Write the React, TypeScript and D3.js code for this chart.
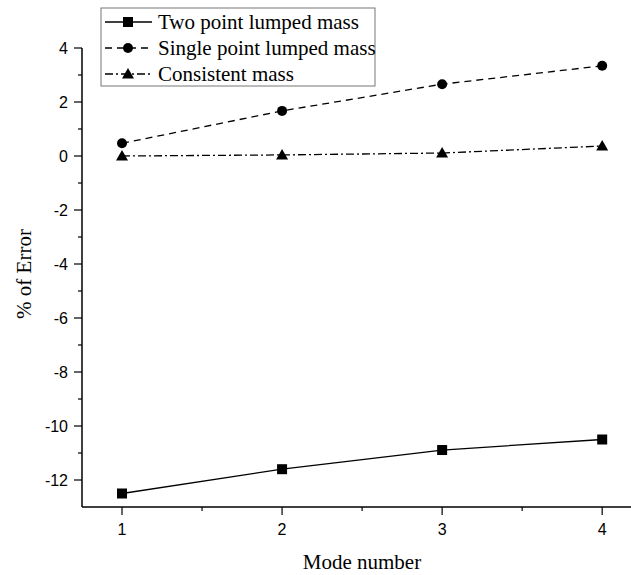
import React from "react";
import * as d3 from "d3";

const modes = [1, 2, 3, 4];
const twoPoint = [-12.5, -11.6, -10.89, -10.5];
const singlePoint = [0.47, 1.67, 2.66, 3.34];
const consistent = [0.0, 0.04, 0.11, 0.37];
const yTicks = [4, 2, 0, -2, -4, -6, -8, -10, -12];
const yMinor = [3, 1, -1, -3, -5, -7, -9, -11];
const xTicks = [1, 2, 3, 4];
const xMinor = [1.5, 2.5, 3.5];
const seriesNames = ["Two point lumped mass", "Single point lumped mass", "Consistent mass"];

const W = 631;
const H = 575;
const left = 82;
const bottom = 507;

export default function App() {
  const x = d3.scaleLinear().domain([0.75, 4.18]).range([left, 631]);
  const y = d3.scaleLinear().domain([-13, 4]).range([bottom, bottom - 17 * 27]);
  const line = d3
    .line<[number, number]>()
    .x((d) => x(d[0]))
    .y((d) => y(d[1]));

  const series = [
    { name: seriesNames[0], vals: twoPoint, dash: "none", marker: "square" },
    { name: seriesNames[1], vals: singlePoint, dash: "7,5", marker: "circle" },
    { name: seriesNames[2], vals: consistent, dash: "8,3,2,3", marker: "triangle" },
  ];

  const marker = (type: string, cx: number, cy: number, key: any) => {
    if (type === "square")
      return <rect key={key} x={cx - 5} y={cy - 5} width={10} height={10} fill="#000" />;
    if (type === "circle") return <circle key={key} cx={cx} cy={cy} r={5} fill="#000" />;
    const s = 6;
    return (
      <path
        key={key}
        d={`M${cx},${cy - s} L${cx + s},${cy + s * 0.75} L${cx - s},${cy + s * 0.75} Z`}
        fill="#000"
      />
    );
  };

  const serif = "'Liberation Serif', 'Times New Roman', serif";
  const sans = "'Liberation Sans', Arial, sans-serif";

  return (
    <svg width={W} height={H} style={{ position: "absolute", left: 0, top: 0, background: "#fff" }}>
      <rect x={0} y={0} width={W} height={H} fill="#fff" />
      {/* axes */}
      <line x1={left} y1={y(4)} x2={left} y2={bottom} stroke="#000" strokeWidth={1.5} />
      <line x1={left} y1={bottom} x2={W} y2={bottom} stroke="#000" strokeWidth={1.5} />
      {yTicks.map((t) => (
        <g key={"yt" + t}>
          <line x1={left - 8} x2={left} y1={y(t)} y2={y(t)} stroke="#000" strokeWidth={1.2} />
          <text x={left - 14} y={y(t)} dy="0.36em" textAnchor="end" fontFamily={sans} fontSize={16}>
            {t}
          </text>
        </g>
      ))}
      {yMinor.map((t) => (
        <line key={"ym" + t} x1={left - 4} x2={left} y1={y(t)} y2={y(t)} stroke="#000" strokeWidth={1.2} />
      ))}
      {xTicks.map((t) => (
        <g key={"xt" + t}>
          <line x1={x(t)} x2={x(t)} y1={bottom} y2={bottom + 8} stroke="#000" strokeWidth={1.2} />
          <text x={x(t)} y={bottom + 28} textAnchor="middle" fontFamily={sans} fontSize={16}>
            {t}
          </text>
        </g>
      ))}
      {xMinor.map((t) => (
        <line key={"xm" + t} x1={x(t)} x2={x(t)} y1={bottom} y2={bottom + 4} stroke="#000" strokeWidth={1.2} />
      ))}
      <text x={362} y={569} textAnchor="middle" fontFamily={serif} fontSize={21}>
        Mode number
      </text>
      <text
        transform={`translate(31,274) rotate(-90)`}
        textAnchor="middle"
        fontFamily={serif}
        fontSize={21}
      >
        % of Error
      </text>
      {/* series */}
      {series.map((s, i) => (
        <g key={"s" + i}>
          <path
            d={line(modes.map((m, j) => [m, s.vals[j]] as [number, number])) || ""}
            fill="none"
            stroke="#000"
            strokeWidth={1.3}
            strokeDasharray={s.dash}
          />
          {modes.map((m, j) => marker(s.marker, x(m), y(s.vals[j]), j))}
        </g>
      ))}
      {/* legend */}
      <rect x={101} y={8} width={274} height={78} fill="#fff" stroke="#777" strokeWidth={1} />
      {series.map((s, i) => {
        const ly = 22 + i * 26;
        return (
          <g key={"l" + i}>
            <line x1={105} x2={152} y1={ly} y2={ly} stroke="#000" strokeWidth={1.3} strokeDasharray={s.dash} />
            {marker(s.marker, 128, ly, "m")}
            <text x={158} y={ly} dy="0.33em" fontFamily={serif} fontSize={21}>
              {s.name}
            </text>
          </g>
        );
      })}
    </svg>
  );
}
